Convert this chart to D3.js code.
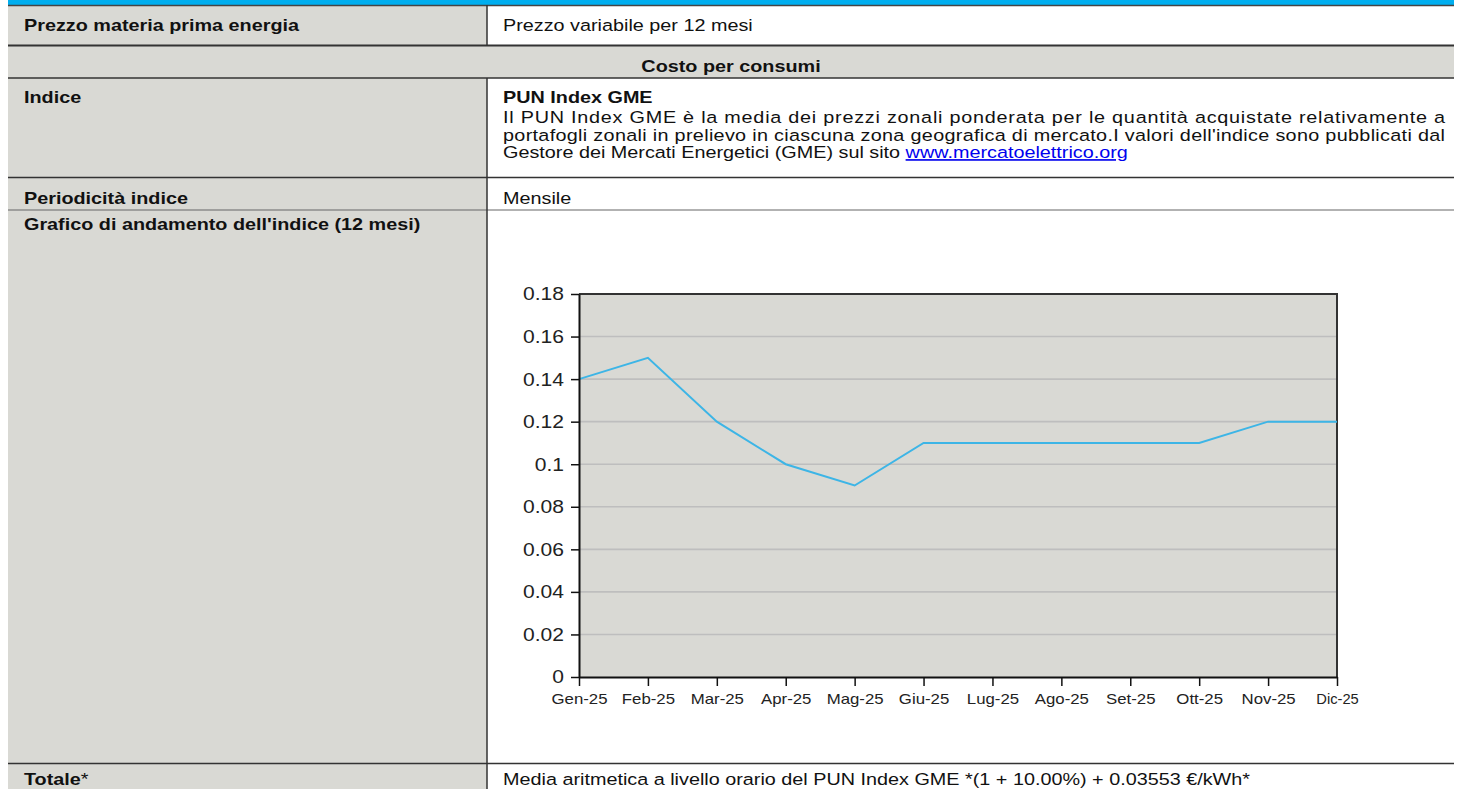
<!DOCTYPE html>
<html>
<head>
<meta charset="utf-8">
<script src="https://cdn.jsdelivr.net/npm/d3@7"></script>
<style>
  html, body { margin: 0; padding: 0; background: #ffffff; overflow: hidden; }
  svg { display: block; }
</style>
</head>
<body>
<div id="root"></div>
<script>
// ---------------- DATA ----------------
const months = ["Gen-25","Feb-25","Mar-25","Apr-25","Mag-25","Giu-25","Lug-25","Ago-25","Set-25","Ott-25","Nov-25","Dic-25"];
const punValues = [0.14, 0.15, 0.12, 0.10, 0.09, 0.11, 0.11, 0.11, 0.11, 0.11, 0.12, 0.12];
const yTicks = [0, 0.02, 0.04, 0.06, 0.08, 0.10, 0.12, 0.14, 0.16, 0.18];
const yTickLabels = ["0","0.02","0.04","0.06","0.08","0.1","0.12","0.14","0.16","0.18"];

const rowLabels = ["Prezzo materia prima energia", "Indice", "Periodicità indice", "Grafico di andamento dell'indice (12 mesi)", "Totale"];
const sectionTitle = "Costo per consumi";
const priceText = "Prezzo variabile per 12 mesi";
const indexTitle = "PUN Index GME";
const indexLines = [
  "Il PUN Index GME è la media dei prezzi zonali ponderata per le quantità acquistate relativamente a",
  "portafogli zonali in prelievo in ciascuna zona geografica di mercato.I valori dell'indice sono pubblicati dal",
  "Gestore dei Mercati Energetici (GME) sul sito "
];
const indexLink = "www.mercatoelettrico.org";
const periodText = "Mensile";
const totalText = "Media aritmetica a livello orario del PUN Index GME *(1 + 10.00%) + 0.03553 €/kWh*";

// ---------------- LAYOUT ----------------
const W = 1461, H = 789;
const SX = 1.2;               // horizontal stretch of the source rendering
const FONT = "'Liberation Sans', Arial, sans-serif";
const GRAY = "#d9d9d4";
const TL = 8, TR = 1454, DIV = 487;

const svg = d3.select("#root").append("svg").attr("width", W).attr("height", H);

// backgrounds
svg.append("rect").attr("x", TL).attr("y", 5).attr("width", DIV - TL).attr("height", H - 5).attr("fill", GRAY);
svg.append("rect").attr("x", TL).attr("y", 46).attr("width", TR - TL).attr("height", 32).attr("fill", GRAY);
svg.append("rect").attr("x", TL).attr("y", 0).attr("width", TR - TL).attr("height", 5).attr("fill", "#00aeef");

// horizontal rules
const rules = [
  {y: 5.5, w: 1.5, c: "#444"},
  {y: 45.5, w: 2, c: "#333"},
  {y: 78, w: 1.5, c: "#333"},
  {y: 177.5, w: 1.5, c: "#333"},
  {y: 210, w: 1.2, c: "#666"},
  {y: 763.5, w: 1.5, c: "#333"}
];
svg.selectAll("line.rule").data(rules).enter().append("line").attr("class", "rule")
  .attr("x1", TL).attr("x2", TR).attr("y1", d => d.y).attr("y2", d => d.y)
  .attr("stroke", d => d.c).attr("stroke-width", d => d.w);

// vertical divider (not in merged section row)
svg.append("line").attr("x1", DIV).attr("x2", DIV).attr("y1", 5).attr("y2", 46).attr("stroke", "#333").attr("stroke-width", 1.5);
svg.append("line").attr("x1", DIV).attr("x2", DIV).attr("y1", 78).attr("y2", H).attr("stroke", "#333").attr("stroke-width", 1.5);

function txt(x, y, str, opts = {}) {
  const t = svg.append("text")
    .attr("transform", `translate(${x},${y}) scale(${SX},1)`)
    .attr("font-family", FONT)
    .attr("font-size", opts.size || 16.5)
    .attr("font-weight", opts.bold ? "bold" : "normal")
    .attr("fill", "#111")
    .attr("text-anchor", opts.anchor || "start")
    .text(str);
  if (opts.justify) t.attr("textLength", opts.justify / SX).attr("lengthAdjust", "spacing");
  return t;
}

const LX = 24, RX = 503, REND = 1445;
txt(LX, 30.5, rowLabels[0], {bold: true});
txt(RX, 30.5, priceText);
txt((TL + TR) / 2, 71.5, sectionTitle, {bold: true, anchor: "middle"});
txt(LX, 103, rowLabels[1], {bold: true});
txt(RX, 103, indexTitle, {bold: true});
txt(RX, 123, indexLines[0], {justify: REND - RX});
txt(RX, 140.6, indexLines[1], {justify: REND - RX});
const l3 = txt(RX, 158.2, indexLines[2]);
l3.append("tspan").attr("fill", "#0000ee").attr("text-decoration", "underline").text(indexLink);
txt(LX, 203.5, rowLabels[2], {bold: true});
txt(RX, 203.5, periodText);
txt(LX, 229.5, rowLabels[3], {bold: true});
const tot = txt(LX, 785, rowLabels[4], {bold: true});
tot.append("tspan").attr("font-weight", "normal").text("*");
txt(RX, 785, totalText);

// ---------------- CHART ----------------
const PX0 = 579, PX1 = 1337, PY0 = 677, PY1 = 294;
const x = d3.scalePoint().domain(months).range([PX0, PX1]).padding(0);
const y = d3.scaleLinear().domain([0, 0.18]).range([PY0, PY1]);

const chart = svg.append("g");
chart.append("rect").attr("x", PX0).attr("y", PY1).attr("width", PX1 - PX0).attr("height", PY0 - PY1).attr("fill", GRAY);

// gridlines
chart.selectAll("line.grid").data(yTicks.filter(v => v > 0 && v < 0.18)).enter().append("line")
  .attr("class", "grid")
  .attr("x1", PX0).attr("x2", PX1).attr("y1", d => y(d)).attr("y2", d => y(d))
  .attr("stroke", "#bebebe").attr("stroke-width", 1.6);

// top & right frame
chart.append("path")
  .attr("d", `M${PX0},${y(0.18)}H${PX1}V${PY0}`)
  .attr("fill", "none").attr("stroke", "#333").attr("stroke-width", 2);

// line
chart.append("path").datum(punValues)
  .attr("d", d3.line().x((d, i) => x(months[i])).y(d => y(d)))
  .attr("fill", "none").attr("stroke", "#3db5e6").attr("stroke-width", 2);

// y axis
const yAxis = chart.append("g").attr("transform", `translate(${PX0},0)`)
  .call(d3.axisLeft(y).tickValues(yTicks).tickFormat((d, i) => yTickLabels[i]).tickSize(8).tickSizeOuter(0));
yAxis.select(".domain").attr("stroke", "#111").attr("stroke-width", 2);
yAxis.selectAll(".tick line").attr("stroke", "#111").attr("stroke-width", 1.5);
yAxis.selectAll(".tick text")
  .attr("x", -15 / 1.17).attr("transform", "scale(1.17,1)")
  .attr("font-family", FONT).attr("font-size", 18).attr("fill", "#222").attr("dy", "0.33em");

// x axis
const xAxis = chart.append("g").attr("transform", `translate(0,${PY0})`)
  .call(d3.axisBottom(x).tickSize(9).tickSizeOuter(0).tickPadding(8));
xAxis.select(".domain").attr("stroke", "#111").attr("stroke-width", 2);
xAxis.selectAll(".tick line").attr("stroke", "#111").attr("stroke-width", 1.5);
xAxis.selectAll(".tick text")
  .attr("transform", (d, i) => i === months.length - 1 ? "scale(1.05,1)" : "scale(1.2,1)")
  .attr("font-family", FONT).attr("font-size", 14).attr("fill", "#222");
</script>
</body>
</html>
